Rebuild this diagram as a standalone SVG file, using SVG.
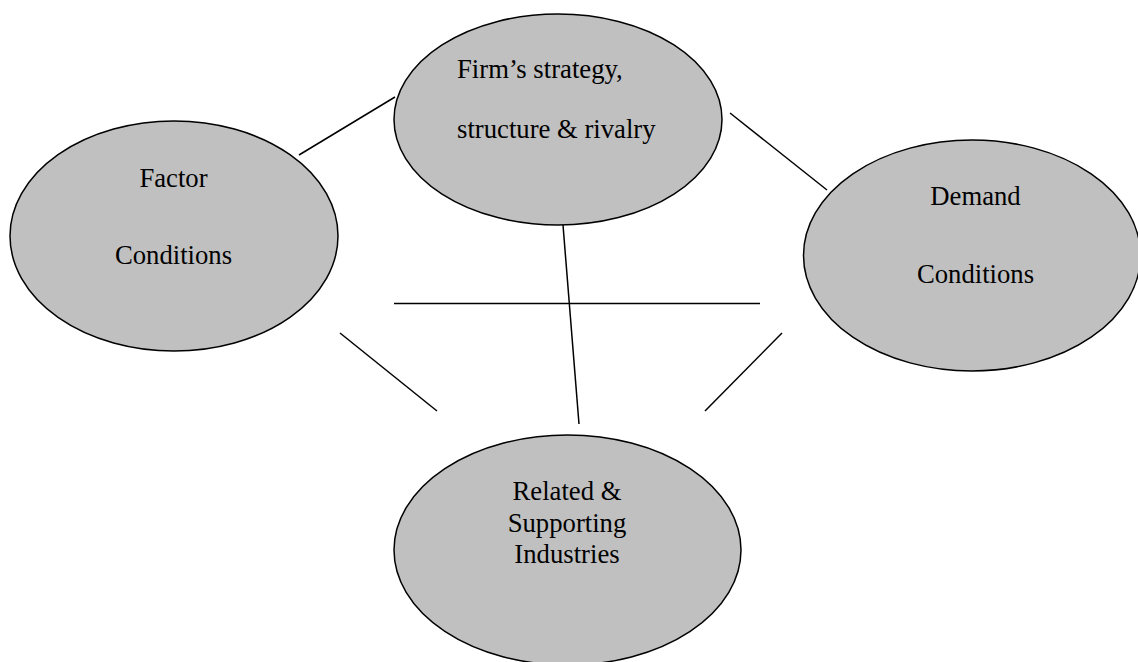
<svg xmlns="http://www.w3.org/2000/svg" width="1138" height="662" viewBox="0 0 1138 662">
<style>
.node{fill:#c0c0c0;stroke:#000;stroke-width:1.5}
.lbl{font-family:"Liberation Serif","Times New Roman",serif;font-size:26.7px;fill:#000}
.c{text-anchor:middle}
.conn line{stroke:#000;stroke-width:1.5}
</style>
<rect width="1138" height="662" fill="#fff"/>
<g class="conn" id="connectors">
<line x1="299" y1="155" x2="395" y2="97"/>
<line x1="730" y1="113" x2="827" y2="190"/>
<line x1="394" y1="303.5" x2="760" y2="303.5"/>
<line x1="563" y1="225" x2="579" y2="424"/>
<line x1="340" y1="333" x2="437" y2="411"/>
<line x1="782" y1="333" x2="705" y2="411"/>
</g>
<g id="firm">
<ellipse class="node" cx="558" cy="119.5" rx="164" ry="105.5"/>
<text class="lbl" x="457" y="78">Firm’s strategy,</text>
<text class="lbl" x="457" y="138">structure &amp; rivalry</text>
</g>
<g id="factor">
<ellipse class="node" cx="174" cy="236" rx="164" ry="115"/>
<text class="lbl c" x="173.5" y="187">Factor</text>
<text class="lbl c" x="173.5" y="264">Conditions</text>
</g>
<g id="demand">
<ellipse class="node" cx="972" cy="255.5" rx="168.5" ry="115.5"/>
<text class="lbl c" x="975.5" y="205">Demand</text>
<text class="lbl c" x="975.5" y="283">Conditions</text>
</g>
<g id="related">
<ellipse class="node" cx="567.5" cy="550" rx="173.5" ry="115"/>
<text class="lbl c" x="567" y="500">Related &amp;</text>
<text class="lbl c" x="567" y="532">Supporting</text>
<text class="lbl c" x="567" y="563">Industries</text>
</g>
</svg>
